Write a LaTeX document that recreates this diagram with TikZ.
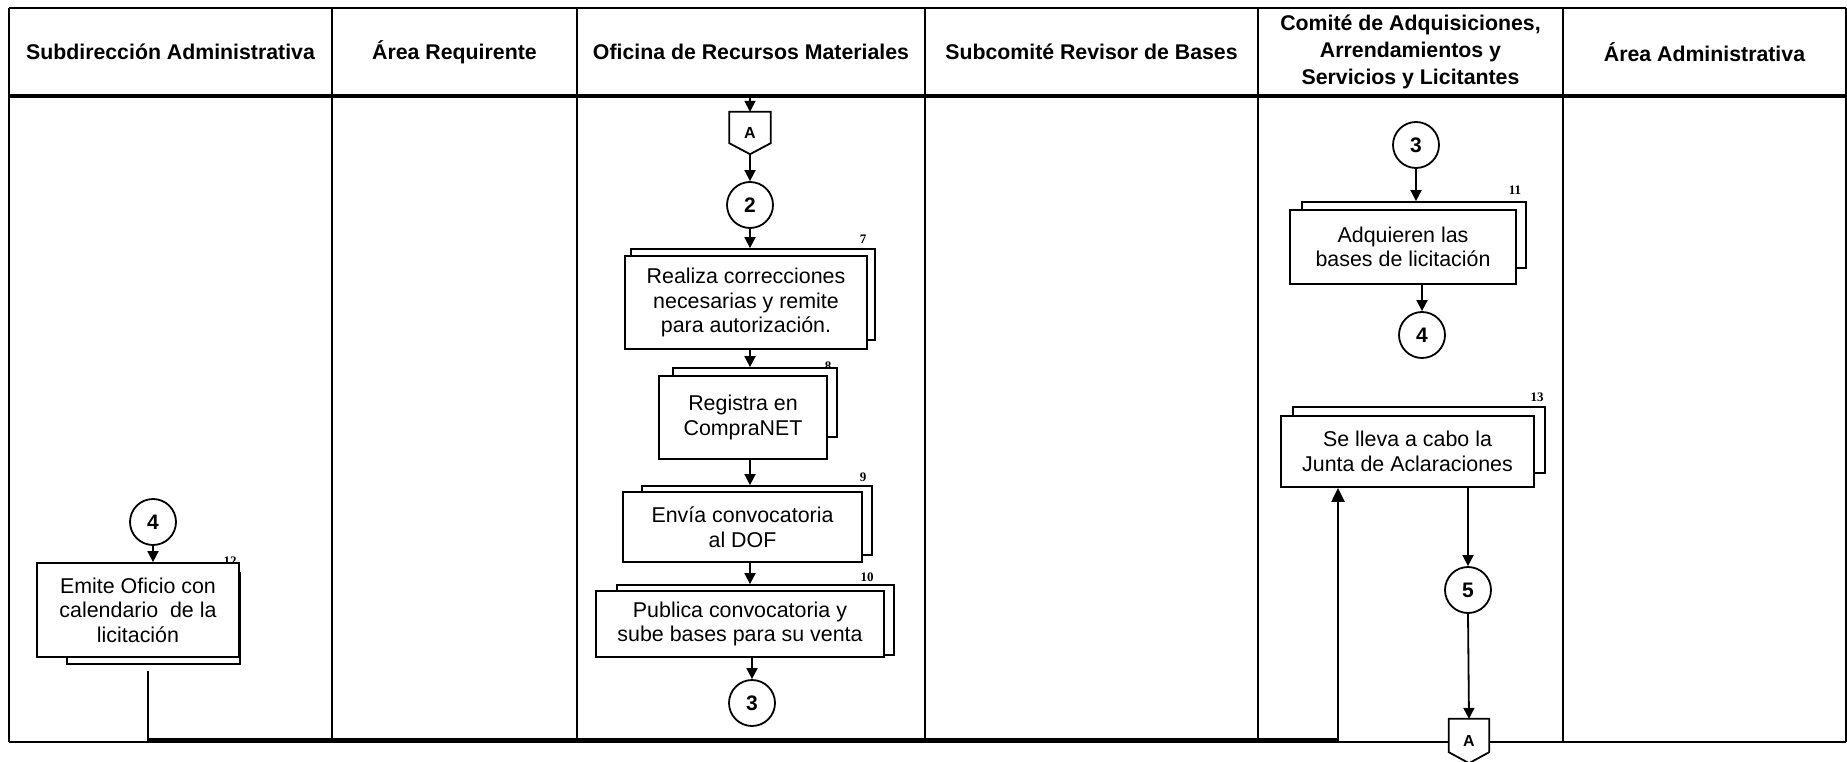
\documentclass[tikz,border=0pt]{standalone}
\usepackage{fontspec}
\setmainfont{Liberation Sans}
\newfontfamily\numfont{Liberation Serif}
\usetikzlibrary{arrows.meta}
\pgfdeclarelayer{background}
\pgfdeclarelayer{shape}
\pgfsetlayers{background,shape,main}

\begin{document}
\begin{tikzpicture}[x=1pt,y=-1pt,
  head/.style={font=\fontsize{21.3}{27}\selectfont\bfseries, align=center, inner sep=0pt},
  front/.style={draw, line width=1.8pt, fill=white, inner sep=0pt, align=center,
    font=\fontsize{21.4}{24.5}\selectfont},
  back/.style={draw, line width=1.8pt, fill=white, inner sep=0pt},
  conn/.style={circle, draw, line width=1.8pt, fill=white, minimum size=46pt,
    inner sep=0pt, font=\fontsize{21}{21}\selectfont\bfseries},
  stepnum/.style={font=\numfont\fontsize{13}{13}\selectfont\bfseries, inner sep=0pt},
  flow/.style={line width=1.8pt, -{Triangle[length=11pt,width=11pt]}},
  link/.style={line width=1.8pt},
  offpage/.style={minimum width=41pt, minimum height=42pt, inner sep=0pt,
    font=\fontsize{16}{16}\selectfont\bfseries}
]
\useasboundingbox (0,0) rectangle (1847,762);

% swimlane grid
\begin{pgfonlayer}{background}
  \draw[line width=2.2pt] (9,8) -- (1846,8);
  \draw[line width=3.2pt] (9,96) -- (1846,96);
  \draw[line width=2.6pt] (9,742) -- (1846,742);
  \draw[line width=2.4pt] (9,8) -- (9,742);
  \draw[line width=2.4pt] (1846,8) -- (1846,742);
  \foreach \x in {332,577,925,1258,1563}
    \draw[line width=2pt] (\x,8) -- (\x,742);
\end{pgfonlayer}

% lane headers
\node[head] (h1) at (170.5,52) {Subdirección Administrativa};
\node[head] (h2) at (454.5,52) {Área Requirente};
\node[head] (h3) at (751,52) {Oficina de Recursos Materiales};
\node[head] (h4) at (1091.5,52) {Subcomité Revisor de Bases};
\node[head] (h5) at (1410.5,52) {Comité de Adquisiciones,\\Arrendamientos y\\Servicios y Licitantes};
\node[head] (h6) at (1704.5,52) {Área Administrativa};

% off-page connector entering the Oficina lane
\node[offpage] (pa) at (750,133) {A};
\begin{pgfonlayer}{shape}
  \draw[link, fill=white] (pa.north west) -- (pa.north east) -- ([yshift=11pt]pa.south east)
    -- (pa.south) -- ([yshift=11pt]pa.south west) -- cycle;
\end{pgfonlayer}

% connector circles
\node[conn] (c2) at (750,205) {2};
\node[conn] (c3a) at (752,703) {3};
\node[conn] (c3b) at (1416,145) {3};
\node[conn] (c4b) at (1422,335) {4};
\node[conn] (c5) at (1468,590) {5};
\node[conn] (c4a) at (153,522) {4};

% Oficina de Recursos Materiales: steps 7-10
\node[stepnum] (n7) at (863,239) {7};
\node[back, minimum width=244pt, minimum height=91pt] (b7k) at (753,294.5) {};
\node[front, minimum width=242pt, minimum height=93pt] (b7) at (746,302.5)
  {Realiza correcciones\\necesarias y remite\\para autorización.};

\node[stepnum] (n8) at (828,366) {8};
\node[back, minimum width=164pt, minimum height=69pt] (b8k) at (755,402.5) {};
\node[front, minimum width=168pt, minimum height=83pt] (b8) at (743,417.5)
  {Registra en\\CompraNET};

\node[stepnum] (n9) at (863,477) {9};
\node[back, minimum width=230pt, minimum height=69pt] (b9k) at (757,520.5) {};
\node[front, minimum width=239pt, minimum height=70pt] (b9) at (742.5,527)
  {Envía convocatoria\\al DOF};

\node[stepnum] (n10) at (867,577) {10};
\node[back, minimum width=277pt, minimum height=70pt] (b10k) at (755.5,620) {};
\node[front, minimum width=288pt, minimum height=66pt] (b10) at (740,624)
  {Publica convocatoria y\\sube bases para su venta};

% Comité lane: steps 11 and 13
\node[stepnum] (n11) at (1515,190) {11};
\node[back, minimum width=224pt, minimum height=66pt] (b11k) at (1414,235) {};
\node[front, minimum width=226pt, minimum height=74pt] (b11) at (1403,247)
  {Adquieren las\\bases de licitación};

\node[stepnum] (n13) at (1537,397) {13};
\node[back, minimum width=252pt, minimum height=66pt] (b13k) at (1419,440) {};
\node[front, minimum width=253pt, minimum height=71pt] (b13) at (1407.5,451.5)
  {Se lleva a cabo la\\Junta de Aclaraciones};

% Subdirección lane: step 12
\node[stepnum] (n12) at (230,561) {12};
\node[back, minimum width=173pt, minimum height=91pt] (b12k) at (153.5,618.5) {};
\node[front, minimum width=202pt, minimum height=94pt] (b12) at (138,610)
  {Emite Oficio con\\calendario~ de la\\licitación};

% off-page connector leaving the Comité lane
\node[offpage, minimum width=40pt, minimum height=44pt] (pb) at (1469,741) {A};
\begin{pgfonlayer}{shape}
  \draw[link, fill=white] (pb.north west) -- (pb.north east) -- ([yshift=11pt]pb.south east)
    -- (pb.south) -- ([yshift=11pt]pb.south west) -- cycle;
\end{pgfonlayer}

% flow connectors
\coordinate (topin) at (750,97);
\draw[flow] (topin) -- (pa.north);
\draw[flow] (pa.south) -- (c2.north);
\draw[flow] (c2.south) -- (c2.south |- b7k.north);
\draw[flow] (b7.south -| c2) -- (b8k.north -| c2);
\draw[flow] (b8.south -| c2) -- (b9k.north -| c2);
\draw[flow] (b9.south -| c2) -- (b10k.north -| c2);
\draw[flow] (b10.south -| c3a) -- (c3a.north);

\draw[flow] (c3b.south) -- (c3b.south |- b11k.north);
\draw[flow] (b11.south -| c4b) -- (c4b.north);
\draw[flow] (b13.south -| c5) -- (c5.north);
\draw[flow] (c5.south) -- (pb.north);

\draw[flow] (c4a.south) -- (c4a.south |- b12.north);

% return path from step 12 to step 13 along the bottom edge
\coordinate (out12) at (148,671);
\coordinate (up13) at (1338,739.5);
\draw[line width=2.2pt, -{Triangle[length=14pt,width=13pt]}]
  (out12) |- (up13) -- (up13 |- b13.south);

\end{tikzpicture}
\end{document}
